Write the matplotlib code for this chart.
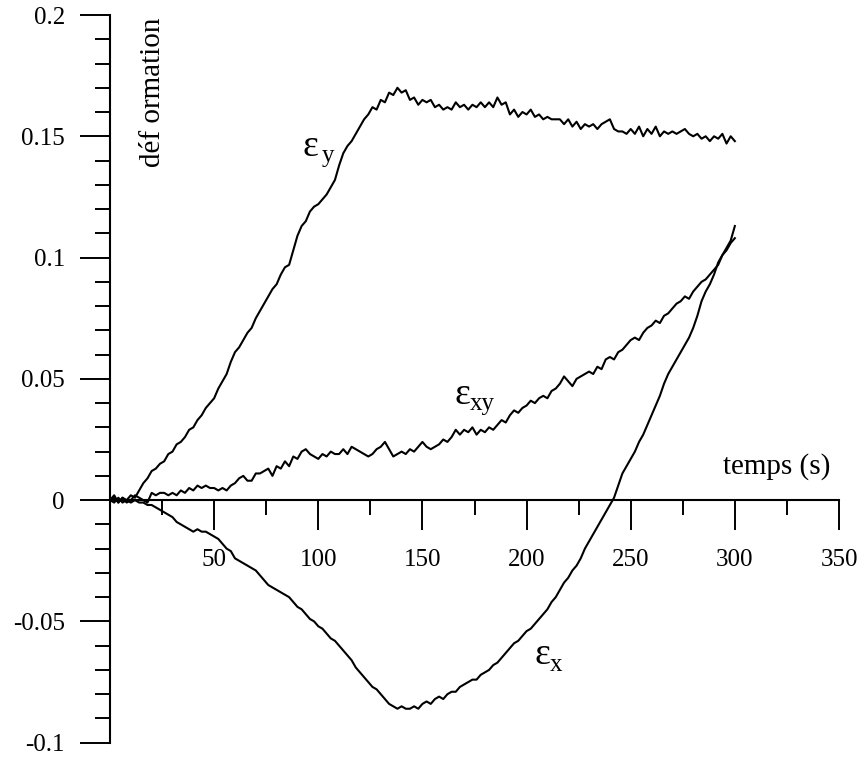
import numpy as np
import matplotlib
matplotlib.use("Agg")
import matplotlib.pyplot as plt

plt.rcParams['font.family'] = ['Liberation Serif', 'DejaVu Serif']

# time grid (s), one sample every 2 s
t = np.arange(0, 301, 2)

eps_y = [0.000, 0.002, -0.001, 0.001, 0.000, 0.002, 0.001, 0.004, 0.007, 0.009,
         0.012, 0.013, 0.015, 0.016, 0.019, 0.020, 0.023, 0.024, 0.026, 0.029,
         0.030, 0.033, 0.035, 0.038, 0.040, 0.042, 0.046, 0.049, 0.052, 0.057,
         0.061, 0.063, 0.066, 0.069, 0.071, 0.075, 0.078, 0.081, 0.084, 0.087,
         0.089, 0.093, 0.096, 0.097, 0.103, 0.109, 0.113, 0.115, 0.119, 0.121,
         0.122, 0.124, 0.126, 0.129, 0.132, 0.138, 0.143, 0.146, 0.148, 0.151,
         0.154, 0.157, 0.159, 0.162, 0.161, 0.165, 0.164, 0.168, 0.167, 0.170,
         0.168, 0.169, 0.165, 0.166, 0.163, 0.165, 0.164, 0.165, 0.162, 0.163,
         0.161, 0.162, 0.161, 0.164, 0.162, 0.163, 0.161, 0.163, 0.162, 0.164,
         0.162, 0.164, 0.162, 0.166, 0.163, 0.164, 0.159, 0.161, 0.158, 0.160,
         0.159, 0.161, 0.158, 0.159, 0.157, 0.158, 0.157, 0.157, 0.157, 0.155,
         0.157, 0.154, 0.156, 0.153, 0.155, 0.154, 0.155, 0.153, 0.155, 0.156,
         0.157, 0.153, 0.152, 0.152, 0.151, 0.153, 0.151, 0.154, 0.150, 0.153,
         0.151, 0.154, 0.150, 0.152, 0.151, 0.152, 0.151, 0.152, 0.153, 0.151,
         0.150, 0.151, 0.149, 0.150, 0.148, 0.150, 0.149, 0.151, 0.147, 0.150,
         0.148]

eps_xy = [0.000, 0.001, -0.001, 0.001, -0.001, 0.000, 0.002, 0.001, 0.000, -0.001,
          0.003, 0.002, 0.003, 0.003, 0.002, 0.003, 0.002, 0.004, 0.003, 0.005,
          0.004, 0.006, 0.005, 0.006, 0.005, 0.005, 0.004, 0.005, 0.004, 0.006,
          0.007, 0.009, 0.010, 0.008, 0.008, 0.011, 0.011, 0.012, 0.013, 0.010,
          0.014, 0.013, 0.016, 0.014, 0.018, 0.017, 0.020, 0.021, 0.019, 0.018,
          0.017, 0.019, 0.018, 0.020, 0.019, 0.019, 0.021, 0.019, 0.022, 0.021,
          0.020, 0.019, 0.018, 0.019, 0.021, 0.022, 0.024, 0.021, 0.018, 0.019,
          0.020, 0.019, 0.021, 0.020, 0.022, 0.024, 0.022, 0.021, 0.022, 0.023,
          0.025, 0.024, 0.026, 0.029, 0.027, 0.029, 0.028, 0.030, 0.027, 0.029,
          0.028, 0.030, 0.029, 0.031, 0.033, 0.032, 0.035, 0.037, 0.036, 0.038,
          0.039, 0.041, 0.040, 0.042, 0.043, 0.042, 0.045, 0.046, 0.048, 0.051,
          0.049, 0.047, 0.050, 0.051, 0.052, 0.053, 0.052, 0.055, 0.054, 0.058,
          0.059, 0.058, 0.061, 0.062, 0.064, 0.066, 0.067, 0.066, 0.069, 0.071,
          0.072, 0.074, 0.073, 0.076, 0.077, 0.079, 0.081, 0.082, 0.084, 0.083,
          0.086, 0.088, 0.090, 0.091, 0.093, 0.095, 0.097, 0.101, 0.103, 0.106,
          0.108]

eps_x = [0.000, -0.001, 0.001, -0.001, 0.000, -0.001, 0.000, -0.001, -0.001, -0.002,
         -0.002, -0.003, -0.004, -0.005, -0.006, -0.007, -0.009, -0.010, -0.011, -0.012,
         -0.013, -0.012, -0.013, -0.013, -0.014, -0.015, -0.016, -0.018, -0.020, -0.021,
         -0.024, -0.025, -0.026, -0.027, -0.028, -0.029, -0.031, -0.033, -0.035, -0.036,
         -0.037, -0.038, -0.039, -0.040, -0.042, -0.044, -0.045, -0.047, -0.049, -0.050,
         -0.052, -0.053, -0.055, -0.057, -0.058, -0.060, -0.062, -0.064, -0.066, -0.069,
         -0.071, -0.073, -0.075, -0.077, -0.078, -0.080, -0.082, -0.084, -0.085, -0.086,
         -0.085, -0.086, -0.086, -0.085, -0.086, -0.084, -0.083, -0.084, -0.082, -0.081,
         -0.082, -0.080, -0.079, -0.079, -0.077, -0.076, -0.075, -0.074, -0.074, -0.072,
         -0.071, -0.070, -0.068, -0.067, -0.065, -0.063, -0.061, -0.059, -0.058, -0.056,
         -0.054, -0.053, -0.051, -0.049, -0.047, -0.045, -0.042, -0.040, -0.037, -0.034,
         -0.032, -0.029, -0.027, -0.024, -0.020, -0.017, -0.014, -0.011, -0.008, -0.005,
         -0.002, 0.001, 0.006, 0.011, 0.014, 0.017, 0.020, 0.024, 0.027, 0.031,
         0.035, 0.039, 0.043, 0.048, 0.052, 0.055, 0.058, 0.061, 0.064, 0.067,
         0.071, 0.076, 0.082, 0.086, 0.089, 0.093, 0.098, 0.101, 0.104, 0.107,
         0.113]

xticks = [50, 100, 150, 200, 250, 300, 350]
yticks = [-0.1, -0.05, 0, 0.05, 0.1, 0.15, 0.2]
ylabels = ["-0.1", "-0.05", "0", "0.05", "0.1", "0.15", "0.2"]

fig = plt.figure(figsize=(8.63, 7.58), dpi=100)
ax = fig.add_axes([110 / 863, 15.3 / 758, 729 / 863, 727.7 / 758])

for y in (eps_y, eps_xy, eps_x):
    ax.plot(t, y, color='black', lw=1.5)

ax.set_xlim(0, 350)
ax.set_ylim(-0.1, 0.2)

ax.spines['top'].set_visible(False)
ax.spines['right'].set_visible(False)
ax.spines['bottom'].set_position(('data', 0))
for s in ('left', 'bottom'):
    ax.spines[s].set_linewidth(1.5)

ax.set_xticks(xticks)
ax.set_xticks(np.arange(25, 350, 50), minor=True)
ax.set_yticks(yticks)
ax.set_yticklabels(ylabels)
ax.set_yticks(np.arange(-0.1, 0.2001, 0.01), minor=True)

ax.tick_params(axis='both', which='major', direction='out', length=21.5, width=1.4,
               labelsize=18)
ax.tick_params(axis='both', which='minor', direction='out', length=10.5, width=1.4)
ax.tick_params(axis='x', which='major', pad=14)
ax.tick_params(axis='y', which='major', pad=11)

ax.text(294.3, 0.0111, "temps (s)", fontsize=21, ha='left', va='baseline')
ax.text(20.5, 0.199, "déf ormation", fontsize=21, rotation=90, ha='center', va='top')

# curve labels
ax.text(92.2, 0.1418, "ε", fontsize=27, ha='left', va='baseline')
ax.text(101.8, 0.1395, "y", fontsize=18, ha='left', va='baseline')
ax.text(165.6, 0.0396, "ε", fontsize=27, ha='left', va='baseline')
ax.text(172.8, 0.0373, "xy", fontsize=18, ha='left', va='baseline')
ax.text(204.0, -0.0676, "ε", fontsize=27, ha='left', va='baseline')
ax.text(211.2, -0.0705, "x", fontsize=18, ha='left', va='baseline')

fig.savefig("out.png", dpi=100)
